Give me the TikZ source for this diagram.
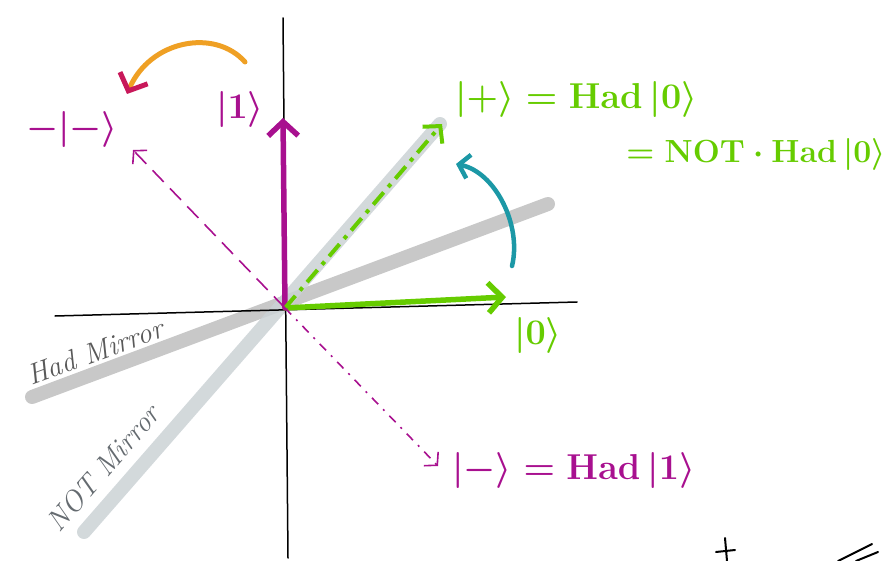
\documentclass[tikz,border=0pt]{standalone}
\usepackage{fix-cm}
\usetikzlibrary{arrows.meta}
\definecolor{qgreen}{HTML}{66CC00}
\definecolor{qmag}{HTML}{A8108F}
\definecolor{hadgray}{HTML}{BEBEBE}
\definecolor{notgray}{HTML}{CBD2D5}
\definecolor{qteal}{HTML}{1C98A6}
\definecolor{qorange}{HTML}{EFA024}
\definecolor{qcrimson}{HTML}{C8185A}
\begin{document}
\begin{tikzpicture}[x=1pt,y=-1pt,
    axis/.style={black,line width=1.5pt,line cap=round},
    mirror/.style={line width=14pt,line cap=round,opacity=.85},
    vec/.style={line width=5.5pt,line cap=round,-{Straight Barb[length=14pt,width=30pt]}},
    thinvec/.style={qmag,line width=1.6pt,-{Straight Barb[length=9pt,width=20pt]}},
    lbl/.style={inner sep=0pt,font=\fontsize{36}{42}\selectfont\bfseries\boldmath},
    mlbl/.style={inner sep=0pt,font=\fontsize{29}{34}\selectfont\itshape}]
	\useasboundingbox (0,0) rectangle (891,561);
	\coordinate (O) at (285,308);
	% mirrors
	\coordinate (h1) at (32,397);
	\coordinate (h2) at (548,204);
	\coordinate (n1) at (84,532);
	\coordinate (n2) at (440,124);
	\draw[mirror,hadgray] (h1) -- (h2);
	\draw[mirror,notgray] (n1) -- (n2);
	% axes
	\coordinate (xl) at (55,316);
	\coordinate (xr) at (577,302);
	\coordinate (yt) at (283,18);
	\coordinate (yb) at (288,558);
	\draw[axis] (xl) -- (xr);
	\draw[axis] (yt) -- (yb);
	% vectors
	\coordinate (zero) at (506,297);
	\coordinate (one) at (283,118);
	\coordinate (plus) at (442,124);
	\coordinate (mminus) at (133,150);
	\coordinate (minus) at (438,466);
	\draw[vec,qgreen] (O) -- (zero);
	\draw[vec,qmag] (O) -- (one);
	\draw[qgreen,line width=4pt,dash pattern=on 16pt off 7pt on 4pt off 7pt,
	      -{Straight Barb[length=12pt,width=26pt]}] (O) -- (plus);
	\draw[thinvec,dash pattern=on 16pt off 9pt] (O) -- (mminus);
	\draw[thinvec,dash pattern=on 9pt off 7pt on 2pt off 7pt] (O) -- (minus);
	% rotation arrows
	\coordinate (or1) at (245,62);
	\coordinate (or2) at (127,94);
	\draw[qorange,line width=5pt,line cap=round,
	      -{Straight Barb[length=14pt,width=30pt,color=qcrimson]}]
	      (or1) .. controls (215,28) and (150,40) .. (or2);
	\coordinate (te1) at (512,266);
	\coordinate (te2) at (456,164);
	\draw[qteal,line width=4.5pt,line cap=round,
	      -{Straight Barb[length=10pt,width=24pt]}]
	      (te1) .. controls (522,225) and (495,172) .. (te2);
	% labels
	\node[lbl,qgreen] (l0) at (538,335) {$|0\rangle$};
	\node[lbl,qmag] (l1) at (240,110) {$|1\rangle$};
	\node[lbl,qgreen,anchor=west] (lp) at (455,100) {$|{+}\rangle = \mathrm{Had}\,|0\rangle$};
	\node[lbl,qgreen,anchor=east,font=\fontsize{32}{38}\selectfont\bfseries\boldmath] (lp2) at (886,155) {$=\mathrm{NOT}\cdot\mathrm{Had}\,|0\rangle$};
	\node[lbl,qmag] (lmm) at (72,130) {$-|{-}\rangle$};
	\node[lbl,qmag,anchor=west] (lm) at (452,470) {$|{-}\rangle = \mathrm{Had}\,|1\rangle$};
	\node[mlbl,black!65,rotate=20] (lhad) at (95,352) {Had Mirror};
	\node[mlbl,gray!80!cyan!60!black,rotate=49] (lnot) at (103,468) {NOT Mirror};
	% stray marks
	\coordinate (s1) at (725,538);
	\coordinate (s2) at (727,561);
	\coordinate (s3) at (716,552);
	\coordinate (s4) at (735,550);
	\draw[black,line width=2pt,line cap=round] (s1) -- (s2);
	\draw[black,line width=2pt,line cap=round] (s3) -- (s4);
	\coordinate (s5) at (838,561);
	\coordinate (s6) at (872,544);
	\coordinate (s7) at (856,561);
	\coordinate (s8) at (878,552);
	\draw[black,line width=2pt,line cap=round] (s5) -- (s6);
	\draw[black,line width=2pt,line cap=round] (s7) -- (s8);
\end{tikzpicture}
\end{document}
